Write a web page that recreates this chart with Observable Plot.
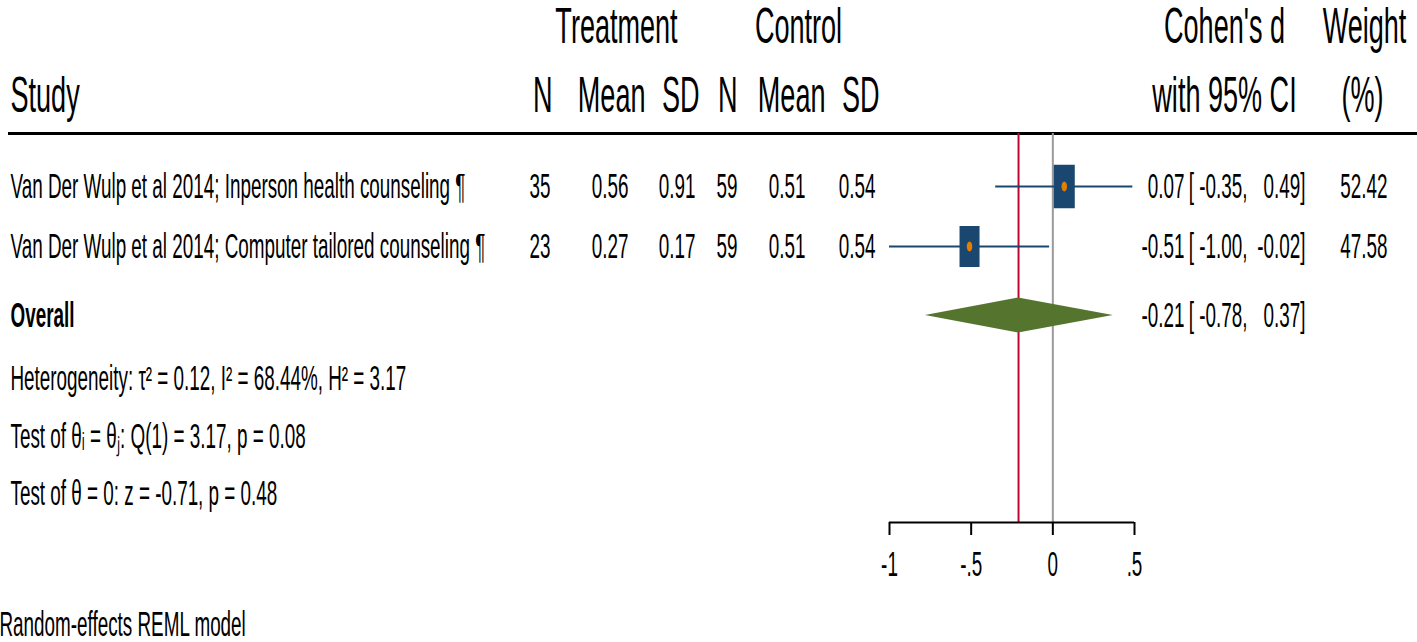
<!DOCTYPE html>
<html>
<head>
<meta charset="utf-8">
<script src="https://cdn.jsdelivr.net/npm/d3@7"></script>
<script src="https://cdn.jsdelivr.net/npm/@observablehq/plot@0.6"></script>
<style>
  html, body { margin: 0; padding: 0; background: #fff; overflow: hidden; }
</style>
</head>
<body>
<div id="chart"></div>
<script>
// ---------------- data ----------------
const studies = [
  "Van Der Wulp et al 2014; Inperson health counseling ¶",
  "Van Der Wulp et al 2014; Computer tailored counseling ¶"
];
const treatN = [35, 23];
const treatMean = [0.56, 0.27];
const treatSD = [0.91, 0.17];
const ctrlN = [59, 59];
const ctrlMean = [0.51, 0.51];
const ctrlSD = [0.54, 0.54];
const effect = [0.07, -0.51];
const ciLow = [-0.35, -1.00];
const ciHigh = [0.49, -0.02];
const weight = [52.42, 47.58];

const overallLabel = "Overall";
const overallEffect = [-0.21];
const overallLow = [-0.78];
const overallHigh = [0.37];

const statLines = [
  "Heterogeneity: τ² = 0.12, I² = 68.44%, H² = 3.17",
  "Test of θᵢ = θⱼ: Q(1) = 3.17, p = 0.08",
  "Test of θ = 0: z = -0.71, p = 0.48"
];
const headerTop = ["Treatment", "Control", "Cohen's d", "Weight"];
const headerBottom = ["Study", "N", "Mean", "SD", "N", "Mean", "SD", "with 95% CI", "(%)"];
const tickValues = [-1, -0.5, 0, 0.5];
const tickLabels = ["-1", "-.5", "0", ".5"];
const footnote = "Random-effects REML model";

// ---------------- layout (not data) ----------------
const FONT = '"Liberation Sans", Arial, Helvetica, sans-serif';
const SX = 0.82, SY = 1.5;     // narrow + vertically stretched text of the original export
const FS_HEAD = 33, FS_BODY = 23;
const Y = {head1: 0.44, head2: 1.6, rule: 2.217, studies: [3.1, 4.1], overall: 5.25,
           stats: [6.3, 7.28, 8.22], axis: 8.7, foot: 10.4};
const headTopPos = [[616, "middle"], [798, "middle"], [1224, "middle"], [1364, "middle"]];
const headBottomPos = [[10, "start"], [552, "end"], [645, "end"], [699, "end"], [737, "end"],
                       [825, "end"], [879, "end"], [1224, "middle"], [1362, "middle"]];
const COL = {study: 10, tN: 550, tMean: 628, tSD: 695, cN: 737, cMean: 805, cSD: 875,
             est: 1184, lo: 1247, hi: 1305, w: 1387};
const NAVY = "#1a476f", ORANGE = "#e37e00", GREEN = "#55752f", RED = "#c10534", GREY = "#9a9a9a";

// ---------------- derived tables ----------------
const fx = v => v.toFixed(2);
const rows = studies.map((s, i) => ({
  study: s, y: Y.studies[i], tN: treatN[i], tMean: treatMean[i], tSD: treatSD[i],
  cN: ctrlN[i], cMean: ctrlMean[i], cSD: ctrlSD[i], est: effect[i], lo: ciLow[i], hi: ciHigh[i], w: weight[i]
}));
const overall = overallEffect.map((e, i) => ({label: overallLabel, y: Y.overall, est: e, lo: overallLow[i], hi: overallHigh[i]}));
const DH = 0.29; // diamond half-height in row units
const diamond = overall.flatMap(o => [
  {x: o.lo, y1: o.y, y2: o.y},
  {x: o.est, y1: o.y - DH, y2: o.y + DH},
  {x: o.hi, y1: o.y, y2: o.y}
]);

// custom symbols (Stata weighted square is drawn tall in this export)
const tallSquare = {draw(ctx, size) {
  const r = Math.sqrt(size / Math.PI), w = r / 2, h = r * 1.03;
  ctx.moveTo(-w, -h); ctx.lineTo(w, -h); ctx.lineTo(w, h); ctx.lineTo(-w, h); ctx.closePath();
}};
const tallEllipse = {draw(ctx, size) {
  const r = Math.sqrt(size / Math.PI), rx = r * 0.55, ry = r * 1.0, k = 0.5523;
  ctx.moveTo(rx, 0);
  ctx.bezierCurveTo(rx, ry * k, rx * k, ry, 0, ry);
  ctx.bezierCurveTo(-rx * k, ry, -rx, ry * k, -rx, 0);
  ctx.bezierCurveTo(-rx, -ry * k, -rx * k, -ry, 0, -ry);
  ctx.bezierCurveTo(rx * k, -ry, rx, -ry * k, rx, 0);
  ctx.closePath();
}};

function txt(data, opts) {
  return Plot.text(data, {frameAnchor: "left", fontSize: FS_BODY, fill: "black", ...opts});
}

const marks = [
  // header
  ...headerTop.map((h, i) => txt([h], {text: d => d, y: () => Y.head1, dx: headTopPos[i][0], textAnchor: headTopPos[i][1], fontSize: FS_HEAD})),
  ...headerBottom.map((h, i) => txt([h], {text: d => d, y: () => Y.head2, dx: headBottomPos[i][0], textAnchor: headBottomPos[i][1], fontSize: FS_HEAD})),
  Plot.ruleY([Y.rule], {stroke: "black", strokeWidth: 3, insetLeft: 8}),

  // reference lines
  Plot.ruleX([0], {y1: Y.rule, y2: Y.axis, stroke: GREY, strokeWidth: 2}),
  Plot.ruleX(overall, {x: "est", y1: Y.rule, y2: Y.axis, stroke: RED, strokeWidth: 2}),

  // study rows
  txt(rows, {text: "study", y: "y", dx: COL.study, textAnchor: "start"}),
  txt(rows, {text: d => String(d.tN), y: "y", dx: COL.tN, textAnchor: "end"}),
  txt(rows, {text: d => fx(d.tMean), y: "y", dx: COL.tMean, textAnchor: "end"}),
  txt(rows, {text: d => fx(d.tSD), y: "y", dx: COL.tSD, textAnchor: "end"}),
  txt(rows, {text: d => String(d.cN), y: "y", dx: COL.cN, textAnchor: "end"}),
  txt(rows, {text: d => fx(d.cMean), y: "y", dx: COL.cMean, textAnchor: "end"}),
  txt(rows, {text: d => fx(d.cSD), y: "y", dx: COL.cSD, textAnchor: "end"}),
  Plot.ruleY(rows, {y: "y", x1: "lo", x2: "hi", stroke: NAVY, strokeWidth: 2}),
  Plot.dot(rows, {x: "est", y: "y", r: "w", symbol: tallSquare, fill: NAVY, stroke: null}),
  Plot.dot(rows, {x: "est", y: "y", r: 5, symbol: tallEllipse, fill: ORANGE, stroke: null}),
  txt(rows, {text: d => fx(d.est), y: "y", dx: COL.est, textAnchor: "end"}),
  txt(rows, {text: d => "[ " + fx(d.lo) + ",", y: "y", dx: COL.lo, textAnchor: "end"}),
  txt(rows, {text: d => fx(d.hi) + "]", y: "y", dx: COL.hi, textAnchor: "end"}),
  txt(rows, {text: d => fx(d.w), y: "y", dx: COL.w, textAnchor: "end"}),

  // overall
  Plot.areaY(diamond, {x: "x", y1: "y1", y2: "y2", fill: GREEN, curve: "linear"}),
  txt(overall, {text: "label", y: "y", dx: COL.study, textAnchor: "start", fontWeight: "bold"}),
  txt(overall, {text: d => fx(d.est), y: "y", dx: COL.est, textAnchor: "end"}),
  txt(overall, {text: d => "[ " + fx(d.lo) + ",", y: "y", dx: COL.lo, textAnchor: "end"}),
  txt(overall, {text: d => fx(d.hi) + "]", y: "y", dx: COL.hi, textAnchor: "end"}),

  // statistics
  txt(statLines, {text: d => d, y: (d, i) => Y.stats[i], dx: COL.study, textAnchor: "start"}),

  // axis
  Plot.ruleY([Y.axis], {x1: tickValues[0], x2: tickValues[tickValues.length - 1], stroke: "black", strokeWidth: 2}),
  Plot.axisX(tickValues, {anchor: "bottom", tickSize: 13, tickPadding: 16, strokeWidth: 2,
    fontSize: FS_BODY, label: null, tickFormat: d => tickLabels[tickValues.indexOf(d)]}),

  // footnote
  txt([footnote], {text: d => d, y: () => Y.foot, dx: -1, textAnchor: "start"})
];

const svg = Plot.plot({
  width: 1417, height: 642,
  marginTop: 0, marginBottom: 120, marginLeft: 0, marginRight: 0,
  x: {domain: [tickValues[0], tickValues[tickValues.length - 1]], range: [889, 1134]},
  y: {domain: [0, Y.axis], range: [0, 522], axis: null},
  r: {type: "sqrt", domain: [0, d3.max(weight)], range: [0, 21]},
  style: {fontFamily: FONT, background: "white", color: "black", overflow: "visible"},
  marks
});

// narrow + stretch text like the original export
svg.querySelectorAll("text").forEach(t => {
  const tr = t.getAttribute("transform") || "";
  t.setAttribute("transform", (tr + ` scale(${SX},${SY})`).trim());
});

document.getElementById("chart").appendChild(svg);
</script>
</body>
</html>
